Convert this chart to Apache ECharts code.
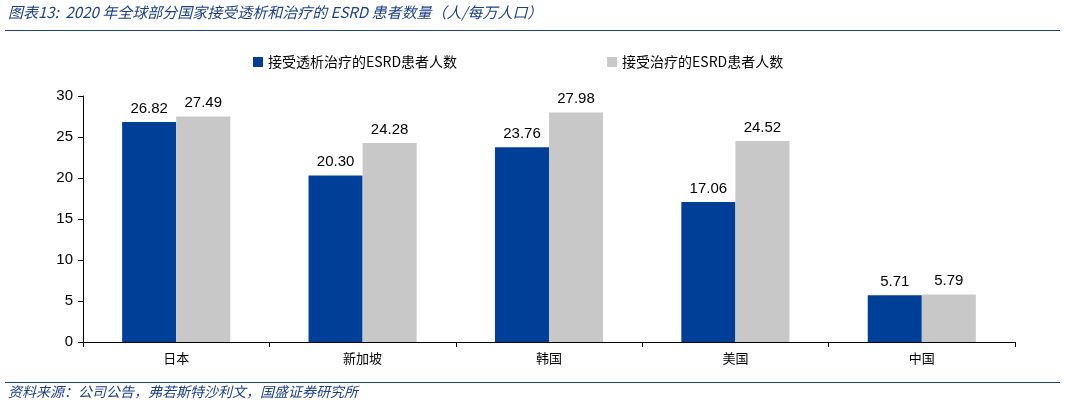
<!DOCTYPE html>
<html><head><meta charset="utf-8">
<script src="https://cdn.jsdelivr.net/npm/echarts@6/dist/echarts.min.js"></script>
<style>html,body{margin:0;padding:0;background:#fff}#c{width:1065px;height:408px}</style>
</head><body><div id="c"></div>
<script>
const categories=['日本','新加坡','韩国','美国','中国'];
const dialysis=[26.82,20.30,23.76,17.06,5.71];
const treated=[27.49,24.28,27.98,24.52,5.79];
const yTicks=[0,5,10,15,20,25,30];
const chart=echarts.init(document.getElementById('c'));
const lbl={show:true,position:'top',fontSize:15,color:'#000',fontFamily:'Arial',formatter:p=>p.value.toFixed(2),distance:6};
chart.setOption({
  animation:false,
  graphic:[
    {type:'text',left:8,top:5,style:{text:'图表13:  2020 年全球部分国家接受透析和治疗的 ESRD 患者数量（人/每万人口）',font:'italic 15px "Noto Sans CJK SC"',fill:'#1a3f8a'}},
    {type:'rect',shape:{x:5,y:30,width:1055,height:1},style:{fill:'#1a3f8a'}},
    {type:'rect',shape:{x:5,y:382,width:1055,height:1},style:{fill:'#1a3f8a'}},
    {type:'text',left:8,top:385,style:{text:'资料来源：公司公告，弗若斯特沙利文，国盛证券研究所',font:'italic 14px "Noto Sans CJK SC"',fill:'#1a3f8a'}}
  ],
  legend:{top:50,left:248,itemGap:150,itemWidth:10,itemHeight:10,icon:'rect',textStyle:{fontSize:14,fontFamily:'"Noto Sans CJK SC"',color:'#000'}},
  grid:{left:83,right:50,top:96,bottom:66},
  xAxis:{type:'category',data:categories,axisLine:{lineStyle:{color:'#000'}},axisTick:{show:true,alignWithLabel:false,lineStyle:{color:'#000'}},axisLabel:{fontSize:13,color:'#000',fontFamily:'"Noto Sans CJK SC"',margin:10}},
  yAxis:{type:'value',min:yTicks[0],max:yTicks[yTicks.length-1],interval:5,axisLine:{show:true,lineStyle:{color:'#000'}},axisTick:{show:true,lineStyle:{color:'#000'}},splitLine:{show:false},axisLabel:{fontSize:15,color:'#000',fontFamily:'Arial',margin:10}},
  series:[
    {name:'接受透析治疗的ESRD患者人数',type:'bar',data:dialysis,itemStyle:{color:'#003f98'},barGap:'0%',barCategoryGap:'42%',label:lbl},
    {name:'接受治疗的ESRD患者人数',type:'bar',data:treated,itemStyle:{color:'#c8c8c8'},label:lbl}
  ]
});
</script></body></html>
